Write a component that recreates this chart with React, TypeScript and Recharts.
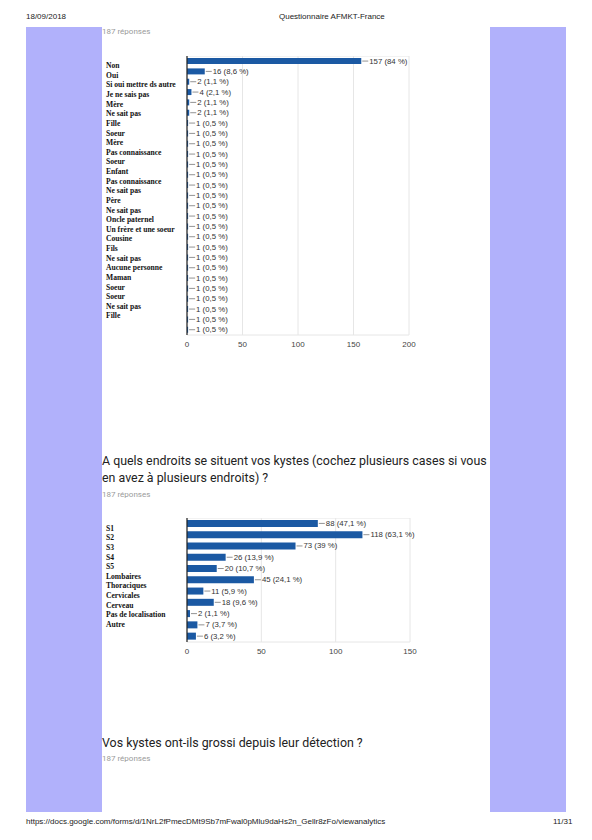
import React from "react";
import { BarChart, Bar, XAxis, YAxis, CartesianGrid, LabelList } from "recharts";

const names1 = [
  "Non", "Oui", "Si oui mettre ds autre", "Je ne sais pas", "Mère", "Ne sait pas", "Fille", "Soeur", "Mère",
  "Pas connaissance", "Soeur", "Enfant", "Pas connaissance", "Ne sait pas", "Père", "Ne sait pas",
  "Oncle paternel", "Un frère et une soeur", "Cousine", "Fils", "Ne sait pas", "Aucune personne",
  "Maman", "Soeur", "Soeur", "Ne sait pas", "Fille",
];
const values1 = [157, 16, 2, 4, 2, 2, 1, 1, 1, 1, 1, 1, 1, 1, 1, 1, 1, 1, 1, 1, 1, 1, 1, 1, 1, 1, 1];
const pct1 = [84, 8.6, 1.1, 2.1, 1.1, 1.1, 0.5, 0.5, 0.5, 0.5, 0.5, 0.5, 0.5, 0.5, 0.5, 0.5, 0.5, 0.5, 0.5, 0.5, 0.5, 0.5, 0.5, 0.5, 0.5, 0.5, 0.5];
const ticks1 = [0, 50, 100, 150, 200];

const names2 = ["S1", "S2", "S3", "S4", "S5", "Lombaires", "Thoraciques", "Cervicales", "Cerveau", "Pas de localisation", "Autre"];
const values2 = [88, 118, 73, 26, 20, 45, 11, 18, 2, 7, 6];
const pct2 = [47.1, 63.1, 39, 13.9, 10.7, 24.1, 5.9, 9.6, 1.1, 3.7, 3.2];
const ticks2 = [0, 50, 100, 150];

const data1 = names1.map((name, i) => ({ name, value: values1[i], pct: pct1[i] }));
const data2 = names2.map((name, i) => ({ name, value: values2[i], pct: pct2[i] }));

const BLUE = "#1b59a3";
const PURPLE = "#b1b1fb";
const fmtPct = (p: number) => String(p).replace(".", ",") + " %";

const makeTick = (labels: string[], a: number, b: number) => (props: any) => {
  const { y, index } = props;
  return (
    <text
      x={4}
      y={y + a - b * index}
      dominantBaseline="central"
      fontFamily="'Liberation Serif', serif"
      fontWeight="bold"
      fontSize={7.6}
      fill="#111"
    >
      {labels[index]}
    </text>
  );
};

const makeLabel = (data: { value: number; pct: number }[]) => (props: any) => {
  const { x, y, width, height, index } = props;
  const end = Number(x) + Number(width);
  const cy = Number(y) + Number(height) / 2;
  const d = data[index];
  return (
    <g>
      <line x1={end + 1} y1={cy} x2={end + 7} y2={cy} stroke="#777" strokeWidth={0.8} />
      <text x={end + 8} y={cy} dominantBaseline="central" fontFamily="'Liberation Sans', Arial, sans-serif" fontSize={7.8} fill="#333">
        {`${d.value} (${fmtPct(d.pct)})`}
      </text>
    </g>
  );
};

const frameH = ({ offset }: any) => [offset.top, offset.top + offset.height];

const smallGrey: React.CSSProperties = {
  position: "absolute",
  left: 102,
  fontFamily: "Roboto, sans-serif",
  fontSize: 8,
  color: "#9a9a9a",
  whiteSpace: "nowrap",
  lineHeight: "10px",
};

const title: React.CSSProperties = {
  position: "absolute",
  left: 102,
  fontFamily: "Roboto, sans-serif",
  fontSize: 12.4,
  color: "#222",
  whiteSpace: "nowrap",
  lineHeight: "17px",
};

const printText: React.CSSProperties = {
  position: "absolute",
  fontFamily: "'Liberation Sans', Arial, sans-serif",
  fontSize: 8,
  color: "#222",
  whiteSpace: "nowrap",
  lineHeight: "10px",
};

export default function App() {
  return (
    <div style={{ position: "absolute", left: 0, top: 0, width: 592, height: 840, background: "#fff", overflow: "hidden" }}>
      <div style={{ ...printText, left: 26, top: 12 }}>18/09/2018</div>
      <div style={{ ...printText, left: 279, top: 12 }}>Questionnaire AFMKT-France</div>

      <div style={{ position: "absolute", left: 26, top: 27, width: 76, height: 785, background: PURPLE }} />
      <div style={{ position: "absolute", left: 490, top: 27, width: 76, height: 785, background: PURPLE }} />

      <div style={{ ...smallGrey, top: 27 }}>187 réponses</div>

      <div style={{ position: "absolute", left: 102, top: 56 }}>
        <BarChart
          width={317}
          height={299}
          data={data1}
          layout="vertical"
          margin={{ top: 0, right: 10, bottom: 0, left: 0 }}
          barCategoryGap="20%"
        >
          <CartesianGrid vertical horizontal stroke="#e6e6e6" horizontalCoordinatesGenerator={frameH} />
          <XAxis
            type="number"
            domain={[0, 200]}
            ticks={ticks1}
            height={20}
            axisLine={false}
            tickLine={false}
            tickSize={4}
            tickMargin={2}
            tick={{ fontSize: 8, fill: "#444", fontFamily: "'Liberation Sans', Arial, sans-serif" }}
          />
          <YAxis
            type="category"
            dataKey="name"
            width={85}
            allowDuplicatedCategory
            axisLine={{ stroke: "#222", strokeWidth: 1.2 }}
            tickLine={false}
            interval={0}
            tick={makeTick(names1, 4.5, 0.71)}
          />
          <Bar dataKey="value" fill={BLUE} isAnimationActive={false}>
            <LabelList dataKey="value" content={makeLabel(data1)} />
          </Bar>
        </BarChart>
      </div>

      <div style={{ ...title, top: 452 }}>
        A quels endroits se situent vos kystes (cochez plusieurs cases si vous
        <br />
        en avez à plusieurs endroits) ?
      </div>
      <div style={{ ...smallGrey, top: 490 }}>187 réponses</div>

      <div style={{ position: "absolute", left: 102, top: 518 }}>
        <BarChart
          width={318}
          height={144}
          data={data2}
          layout="vertical"
          margin={{ top: 0, right: 10, bottom: 0, left: 0 }}
          barCategoryGap="17%"
        >
          <CartesianGrid vertical horizontal stroke="#e6e6e6" horizontalCoordinatesGenerator={frameH} />
          <XAxis
            type="number"
            domain={[0, 150]}
            ticks={ticks2}
            height={20}
            axisLine={false}
            tickLine={false}
            tickSize={4}
            tickMargin={2}
            tick={{ fontSize: 8, fill: "#444", fontFamily: "'Liberation Sans', Arial, sans-serif" }}
          />
          <YAxis
            type="category"
            dataKey="name"
            width={85}
            axisLine={{ stroke: "#222", strokeWidth: 1.2 }}
            tickLine={false}
            interval={0}
            tick={makeTick(names2, 4.7, 1.67)}
          />
          <Bar dataKey="value" fill={BLUE} isAnimationActive={false}>
            <LabelList dataKey="value" content={makeLabel(data2)} />
          </Bar>
        </BarChart>
      </div>

      <div style={{ ...title, top: 734 }}>Vos kystes ont-ils grossi depuis leur détection ?</div>
      <div style={{ ...smallGrey, top: 754 }}>187 réponses</div>

      <div style={{ ...printText, left: 26, top: 817 }}>
        https://docs.google.com/forms/d/1NrL2fPmecDMt9Sb7mFwal0pMlu9daHs2n_Gellr8zFo/viewanalytics
      </div>
      <div style={{ ...printText, left: 553, top: 817 }}>11/31</div>
    </div>
  );
}
